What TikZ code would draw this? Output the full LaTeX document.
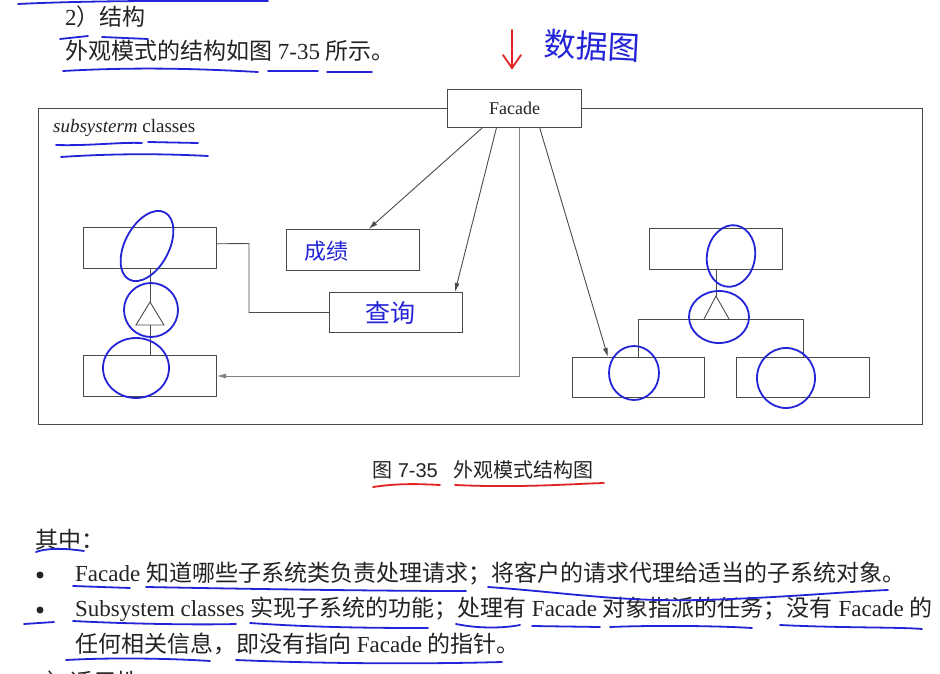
\documentclass[tikz,border=0pt]{standalone}
\usepackage{fontspec}
\setmainfont{Liberation Serif}
\newfontfamily\cjk{Noto Sans CJK SC}
\newfontfamily\capsans{Liberation Sans}
\usetikzlibrary{arrows.meta,calc}
\newcommand{\zh}[1]{{\cjk #1}}
\definecolor{ink}{RGB}{35,35,215}
\definecolor{redink}{RGB}{225,35,35}
\definecolor{linegray}{RGB}{75,75,75}
\definecolor{textgray}{RGB}{35,35,35}
\begin{document}
\begin{tikzpicture}[x=1pt,y=-1pt,
  box/.style={draw=linegray, line width=1pt, fill=white, minimum width=133pt, minimum height=41pt, inner sep=0pt, anchor=north west},
  conn/.style={draw=linegray, line width=0.9pt},
  arr/.style={conn, -{Latex[length=9pt,width=5pt]}},
  ink/.style={draw=ink, line width=1.8pt, line cap=round},
  redline/.style={draw=redink, line width=1.8pt, line cap=round},
  body/.style={anchor=west, inner sep=0pt, text=textgray, font=\fontsize{23}{27}\selectfont},
  dot/.style={circle, fill=textgray, inner sep=0pt, minimum size=7pt},
  hand/.style={inner sep=0pt, text=ink}
]
\useasboundingbox (0,0) rectangle (940,674);
\fill[white] (0,0) rectangle (940,674);

% ---------- header text ----------
\node[body] (h1) at (65,17) {2\zh{）结构}};
\node[body] (h2) at (65,51) {\zh{外观模式的结构如图} 7-35 \zh{所示。}};

% ---------- diagram ----------
\node[draw=linegray, line width=1pt, minimum width=884pt, minimum height=316pt, anchor=north west, inner sep=0pt] (outer) at (38,108) {};
\node[anchor=west, inner sep=0pt, text=textgray, font=\fontsize{19}{22}\selectfont] (subs) at (53,128) {\textit{subsysterm} classes};

\node[box, minimum width=134pt, minimum height=38pt, font=\fontsize{18}{21}\selectfont, text=textgray] (fac) at (447,89) {Facade};

\node[box] (tl) at (83,227) {};
\node[box] (bl) at (83,355) {};
\node[box] (cj) at (286,229) {};
\node[box, minimum height=40pt] (cx) at (329,292) {};
\node[box] (rt) at (649,228) {};
\node[box, minimum width=132pt, minimum height=40pt] (rl) at (572,357) {};
\node[box, minimum height=40pt] (rr) at (736,357) {};

% facade associations
\draw[arr] ($(fac.south west)!0.26!(fac.south east)$) -- ($(cj.north west)!0.617!(cj.north east)$);
\draw[arr] ($(fac.south west)!0.366!(fac.south east)$) -- ($(cx.north west)!0.94!(cx.north east)$);
\draw[arr, draw=linegray!70, line width=0.8pt] ($(fac.south west)!0.537!(fac.south east)$) |- (bl.east);
\draw[arr] ($(fac.south west)!0.687!(fac.south east)$) -- ($(rl.north west)!0.27!(rl.north east)$);

% left group
\draw[conn] ($(tl.north east)!0.4!(tl.south east)$) -- (249,243.5) |- (cx.west);
\coordinate (lA) at (150,302);
\coordinate (lB) at (164,325);
\coordinate (lC) at (136,325);
\draw[conn] (tl.south) -- (lA);
\draw[conn, fill=white] (lA) -- (lB) -- (lC) -- cycle;
\draw[conn] (150,325) -- (bl.north);

% right group
\coordinate (rA) at (716,296);
\draw[conn] (rt.south) -- (rA);
\draw[conn] (rl.north) -- ++(0,-38) -| (rr.north);
\draw[conn] (704,319) -- (rA) -- (729,319);

% caption
\node[anchor=west, inner sep=0pt, text=textgray, font=\capsans\fontsize{20}{23}\selectfont] (cap) at (372,470) {\zh{图} 7-35\hspace{0.8em}\zh{外观模式结构图}};

% ---------- body text ----------
\node[body] (q) at (35,540) {\zh{其中：}};
\node[dot] (b1dot) at (40,575) {};
\node[body] (b1) at (75,574) {Facade \zh{知道哪些子系统类负责处理请求；将客户的请求代理给适当的子系统对象。}};
\node[dot] (b2dot) at (40,610) {};
\node[body] (b2) at (75,609) {Subsystem classes \zh{实现子系统的功能；处理有} Facade \zh{对象指派的任务；没有} Facade \zh{的}};
\node[body] (b3) at (75,644) {\zh{任何相关信息，即没有指向} Facade \zh{的指针。}};
\node[body] (b4) at (36,682) {3\zh{）适用性}};

% ---------- handwritten annotations ----------
% red arrow
\draw[redline] (512,30) -- (512,68);
\draw[redline] (503,55) -- (512,68) -- (521,55);
\node[hand, font=\cjk\fontsize{32}{34}\selectfont, rotate=-3] (hw1) at (592,46) {数据图};
\node[hand, font=\cjk\fontsize{22}{24}\selectfont] (hw2) at (326,251) {成绩};
\node[hand, font=\cjk\fontsize{25}{27}\selectfont] (hw3) at (390,313) {查询};

% red underlines under caption
\draw[redline] (373,487) .. controls (400,483) and (420,484) .. (440,485);
\draw[redline] (455,485) .. controls (520,488) and (570,484) .. (604,483);

% ellipses
\draw[ink] (147,246) ellipse [x radius=22pt, y radius=38pt, rotate=-28];
\draw[ink] (151,310) circle [radius=27pt];
\draw[ink] (136,368) ellipse [x radius=33pt, y radius=30pt];
\draw[ink] (731,256) ellipse [x radius=24pt, y radius=31pt, rotate=-10];
\draw[ink] (719,317) ellipse [x radius=30pt, y radius=26pt];
\draw[ink] (634,373) ellipse [x radius=25pt, y radius=27pt];
\draw[ink] (786,378) ellipse [x radius=29pt, y radius=30pt];

% underlines
\draw[ink] (18,4) .. controls (100,0) and (200,1) .. (268,1);
\draw[ink] (60,39) -- (88,36);
\draw[ink] (102,37) -- (148,39);
\draw[ink] (63,71) .. controls (150,66) and (220,70) .. (258,72);
\draw[ink] (268,71) -- (318,71);
\draw[ink] (327,72) -- (372,72);
\draw[ink] (56,145) .. controls (90,146) and (120,142) .. (142,143);
\draw[ink] (148,142) -- (198,143);
\draw[ink] (61,157) .. controls (120,153) and (170,154) .. (208,156);
\draw[ink] (36,552) .. controls (50,547) and (70,549) .. (84,551);
\draw[ink] (73,586) -- (130,588);
\draw[ink] (146,587) .. controls (250,589) and (380,591) .. (466,591);
\draw[ink] (488,587) .. controls (560,592) and (620,602) .. (700,600) .. controls (780,598) and (840,592) .. (888,590);
\draw[ink] (24,624) -- (54,622);
\draw[ink] (73,621) .. controls (130,624) and (200,625) .. (236,624);
\draw[ink] (250,623) .. controls (320,628) and (390,628) .. (428,628);
\draw[ink] (456,624) .. controls (480,629) and (505,628) .. (520,625);
\draw[ink] (532,626) -- (600,627);
\draw[ink] (610,627) .. controls (660,625) and (720,626) .. (752,628);
\draw[ink] (780,625) .. controls (840,628) and (900,627) .. (922,629);
\draw[ink] (66,660) .. controls (120,657) and (180,659) .. (210,661);
\draw[ink] (236,660) .. controls (330,664) and (430,664) .. (502,662);
\end{tikzpicture}
\end{document}
